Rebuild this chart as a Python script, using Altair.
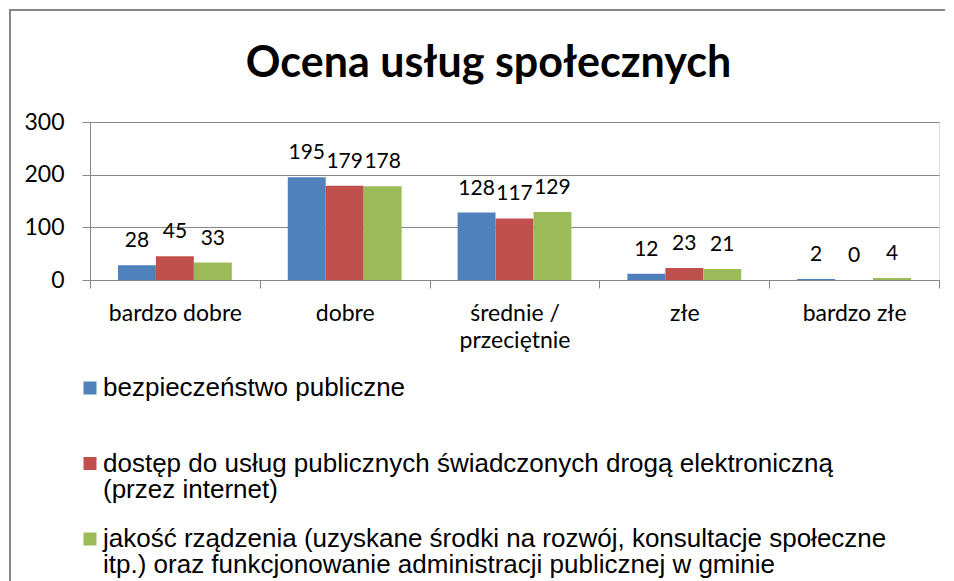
import altair as alt
import pandas as pd

categories = ["bardzo dobre", "dobre", "średnie /\nprzeciętnie", "złe", "bardzo złe"]
series = [
    "bezpieczeństwo publiczne",
    "dostęp do usług publicznych świadczonych drogą elektroniczną\n(przez internet)",
    "jakość rządzenia (uzyskane środki na rozwój, konsultacje społeczne\nitp.) oraz funkcjonowanie administracji publicznej w gminie",
]
values_bezpieczenstwo = [28, 195, 128, 12, 2]
values_dostep = [45, 179, 117, 23, 0]
values_jakosc = [33, 178, 129, 21, 4]
colors = ["#4F81BD", "#C0504D", "#9BBB59"]
y_ticks = [0, 100, 200, 300]
title_text = "Ocena usług społecznych"

rows = []
for s, vals in zip(series, [values_bezpieczenstwo, values_dostep, values_jakosc]):
    for c, v in zip(categories, vals):
        rows.append({"kategoria": c, "seria": s, "wartosc": v})
df = pd.DataFrame(rows)

GRAY = "#868686"
W, H = 849, 158
FONT = "Lato"
FS = 23

x_enc = alt.X(
    "kategoria:N",
    sort=categories,
    scale=alt.Scale(paddingInner=0, paddingOuter=0),
    axis=alt.Axis(
        title=None, labelAngle=0, tickBand="extent",
        labelExpr="split(datum.label, '\\n')",
        labelFont=FONT, labelFontSize=FS, labelColor="black",
        labelPadding=14, labelLineHeight=27, tickSize=8,
        tickColor=GRAY, domainColor=GRAY, grid=False,
    ),
)
xoff_enc = alt.XOffset("seria:N", sort=series,
                       scale=alt.Scale(paddingInner=0, paddingOuter=0.737))
y_enc = alt.Y(
    "wartosc:Q",
    scale=alt.Scale(domain=[0, 300], nice=False),
    axis=alt.Axis(
        title=None, values=y_ticks, labelFont=FONT, labelFontSize=FS,
        labelColor="black", labelPadding=18, tickSize=8, tickColor=GRAY,
        domainColor=GRAY, gridColor=GRAY, grid=True,
    ),
)
color_enc = alt.Color(
    "seria:N", sort=series,
    scale=alt.Scale(domain=series, range=colors),
    legend=alt.Legend(
        orient="none", legendX=-13, legendY=253, title=None,
        direction="vertical", columns=1, symbolType="square",
        symbolSize=169, symbolStrokeWidth=0, labelFont="Liberation Sans",
        labelFontSize=26, labelColor="black", labelLimit=2000,
        labelExpr="split(datum.label, '\\n')", gridAlign="all",
        rowPadding=23.5, labelOffset=0, padding=0,
    ),
)

base = alt.Chart(df)
bars = base.mark_bar().encode(x=x_enc, xOffset=xoff_enc, y=y_enc, color=color_enc)
labels = base.mark_text(dy=-18, baseline="alphabetic", font=FONT,
                        fontSize=21, color="black").encode(
    x=x_enc, xOffset=xoff_enc, y=y_enc, text="wartosc:Q")

frame_top = alt.Chart(alt.Data(values=[{"f": 1}])).mark_rule(
    stroke=GRAY, strokeWidth=2
).encode(x=alt.value(-81), x2=alt.value(855), y=alt.value(-112))
frame_left = alt.Chart(alt.Data(values=[{"f": 1}])).mark_rule(
    stroke=GRAY, strokeWidth=2
).encode(x=alt.value(-80), y=alt.value(-113), y2=alt.value(500))

chart = alt.layer(frame_top, frame_left, bars, labels).properties(
    width=W, height=H,
    title=alt.Title(title_text, font=FONT, fontSize=43, fontWeight="bold",
                    color="black", anchor="middle", baseline="alphabetic",
                    offset=-112, dx=-26),
    padding=0,
).configure_view(stroke=None).configure(
    background="white",
    style={"guide-label": {"lineHeight": 26}},
)

chart.save("out.html", embed_options={"renderer": "svg", "actions": False})
